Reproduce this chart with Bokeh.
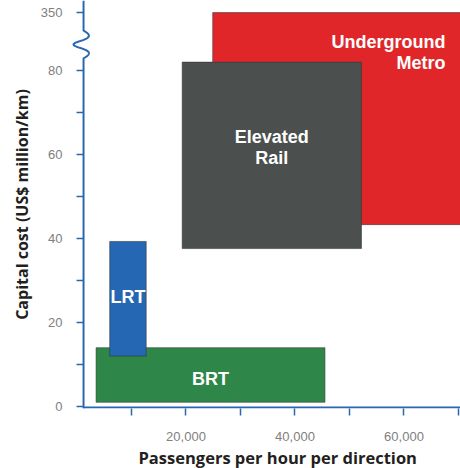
import numpy as np
from bokeh.plotting import figure
from bokeh.models import Range1d, FixedTicker, ColumnDataSource, Title
from bokeh.core.properties import value
from bokeh.embed import file_html
from bokeh.resources import INLINE

# ---------------- data ----------------
modes = ["Underground Metro", "Elevated Rail", "BRT", "LRT"]
mode_labels = ["Underground\nMetro", "Elevated\nRail", "BRT", "LRT"]
pax_low = [24900, 19300, 3500, 6000]
pax_high = [72000, 52200, 45500, 12700]
cost_low = [43.3, 37.6, 1.0, 12.0]
cost_high = [350, 82.0, 14.0, 39.3]
fill_colors = ["#e1262a", "#4b4f4e", "#2e8748", "#2567b2"]

x_tick_values = [10000, 20000, 30000, 40000, 50000, 60000, 70000]
x_tick_labels = ["", "20,000", "", "40,000", "", "60,000", ""]
y_tick_values = [0, 10, 20, 30, 40, 50, 60, 70, 80, 350]
y_tick_labels = ["0", "", "20", "", "40", "", "60", "", "80", "350"]

x_title = "Passengers per hour per direction"
y_title = "Capital cost (US$ million/km)"

# ---------------- axis break (display mapping) ----------------
BREAK_AT = 90
BREAK_TOP_REAL = 350
BREAK_TOP_DISP = 93.8


def disp(v):
    if v <= BREAK_AT:
        return v
    return BREAK_AT + (v - BREAK_AT) * (BREAK_TOP_DISP - BREAK_AT) / (BREAK_TOP_REAL - BREAK_AT)


# ---------------- layout ----------------
W, H = 460, 468
BORDER_L, BORDER_B = 68, 60
FRAME_W = W - BORDER_L
FRAME_H = H - BORDER_B
X0 = -1560
X1 = X0 + FRAME_W * 183.5
Y0, Y1 = -0.48, 96.67
AXIS_X = 1200
SQ_Y0, SQ_Y1 = 82.9, 89.5
dx_px = (X1 - X0) / FRAME_W
dy_px = (Y1 - Y0) / FRAME_H

AXIS_BLUE = "#2a67b1"
TICK_GRAY = "#808080"
TITLE_COL = "#231f20"

p = figure(width=W, height=H, x_range=Range1d(X0, X1), y_range=Range1d(Y0, Y1),
           output_backend="svg", toolbar_location=None,
           min_border_left=BORDER_L, min_border_right=0,
           min_border_top=0, min_border_bottom=BORDER_B)
p.grid.visible = False
p.outline_line_color = None
p.background_fill_color = "white"
p.border_fill_color = "white"

# rectangles
src = ColumnDataSource(dict(
    left=pax_low, right=pax_high, bottom=cost_low,
    top=[disp(v) for v in cost_high], color=fill_colors, mode=modes))
p.quad(left="left", right="right", bottom="bottom", top="top", source=src,
       fill_color="color", line_color="#333333", line_alpha=0.55, line_width=1)

# labels inside rectangles (anchored on each rectangle)
lx, ly, lalign, lbase, lxo, lyo = [], [], [], [], [], []
for m, a, b, c, d in zip(modes, pax_low, pax_high, cost_low, cost_high):
    right_vis = min(b, X1)
    top_d = disp(d)
    if m == "Underground Metro":
        lx.append(right_vis); ly.append(top_d); lalign.append("right"); lbase.append("top")
        lxo.append(-15); lyo.append(19)
    else:
        lx.append((a + right_vis) / 2); ly.append((c + top_d) / 2)
        lalign.append("center"); lbase.append("middle"); lxo.append(0)
        lyo.append({"Elevated Rail": -8, "BRT": 4, "LRT": -2}[m])
p.text(x=lx, y=ly, text=mode_labels, text_align=lalign, text_baseline=lbase,
       x_offset=lxo, y_offset=lyo, text_color="white",
       text_font=value("Liberation Sans"), text_font_style="bold",
       text_font_size="18px", text_line_height=1.08)

# y axis line with break squiggle
t = np.linspace(0, 1, 80)
amp = 5 + 5 * np.sin(np.pi * t) ** 4
sq_x = AXIS_X + amp * np.sin(3 * np.pi * t) * dx_px
sq_y = SQ_Y1 - t * (SQ_Y1 - SQ_Y0)
ax_x = np.concatenate([[AXIS_X], sq_x, [AXIS_X]])
ax_y = np.concatenate([[Y1], sq_y, [Y0]])
p.line(ax_x, ax_y, line_color=AXIS_BLUE, line_width=2)

# x axis line
p.line([AXIS_X, X1], [Y0 + dy_px, Y0 + dy_px], line_color=AXIS_BLUE, line_width=2)

# y ticks
yt = [disp(v) for v in y_tick_values]
p.ray(x=[AXIS_X] * len(yt), y=yt, length=7, length_units="screen", angle=np.pi,
      line_color=AXIS_BLUE, line_width=1.5)

# x axis (ticks + labels)
xa = p.xaxis[0]
xa.ticker = FixedTicker(ticks=x_tick_values)
xa.major_label_overrides = dict(zip(x_tick_values, x_tick_labels))
xa.axis_line_color = None
xa.major_tick_out = 7
xa.major_tick_in = 0
xa.major_tick_line_color = AXIS_BLUE
xa.major_tick_line_width = 1.5
xa.minor_tick_line_color = None
xa.major_label_standoff = 16
xa.major_label_text_font = "Liberation Sans"
xa.major_label_text_font_size = "13px"
xa.major_label_text_color = TICK_GRAY

# x axis title as a below-title, shifted right like the reference
xt = Title(text=x_title, align="left", offset=70, standoff=0,
           text_font="Open Sans", text_font_style="bold",
           text_font_size="16.5px", text_color=TITLE_COL)
p.add_layout(xt, "below")

# y axis (labels only; line and ticks drawn above)
ya = p.yaxis[0]
ya.ticker = FixedTicker(ticks=yt)
ya.major_label_overrides = dict(zip(yt, y_tick_labels))
ya.axis_line_color = None
ya.major_tick_out = 0
ya.major_tick_in = 0
ya.major_tick_line_color = None
ya.minor_tick_line_color = None
ya.major_label_standoff = 6
ya.major_label_text_font = "Liberation Sans"
ya.major_label_text_font_size = "13px"
ya.major_label_text_color = TICK_GRAY
ya.axis_label = y_title
ya.axis_label_standoff = 5
ya.axis_label_text_font = "Open Sans"
ya.axis_label_text_font_style = "bold"
ya.axis_label_text_font_size = "16px"
ya.axis_label_text_color = TITLE_COL

open("out.html", "w").write(file_html(p, INLINE))
